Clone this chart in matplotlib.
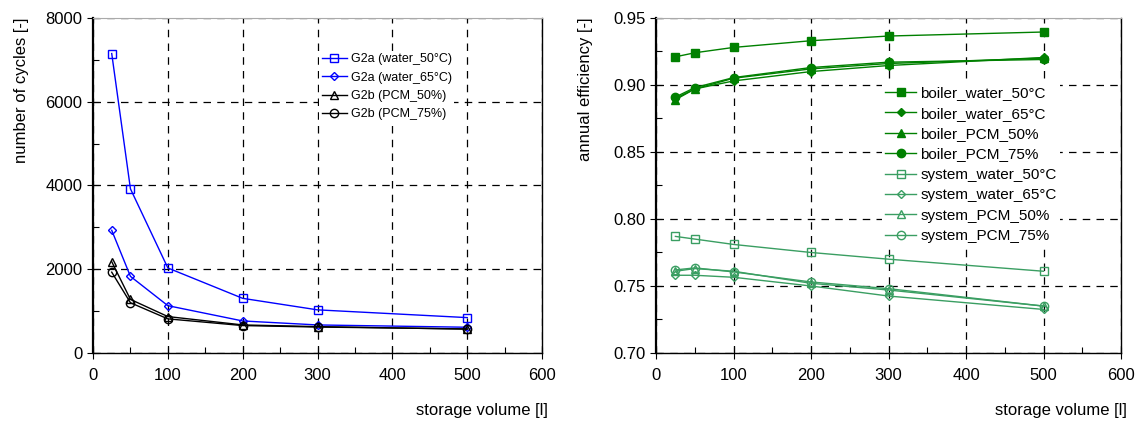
import matplotlib.pyplot as plt
from matplotlib.ticker import MultipleLocator

plt.rcParams['font.family'] = ['Liberation Sans', 'DejaVu Sans']

volume = [25, 50, 100, 200, 300, 500]

# cycles (left chart)
g2a_water50 = [7150, 3920, 2030, 1305, 1030, 845]
g2a_water65 = [2930, 1830, 1130, 765, 670, 615]
g2b_pcm50 = [2180, 1280, 870, 670, 630, 570]
g2b_pcm75 = [1930, 1200, 815, 655, 620, 575]

# annual efficiency (right chart)
boiler_water50 = [0.921, 0.924, 0.928, 0.933, 0.9365, 0.9395]
boiler_water65 = [0.890, 0.897, 0.903, 0.910, 0.9145, 0.9205]
boiler_pcm50 = [0.889, 0.897, 0.905, 0.912, 0.916, 0.920]
boiler_pcm75 = [0.891, 0.898, 0.9055, 0.913, 0.917, 0.919]
system_water50 = [0.787, 0.785, 0.781, 0.775, 0.770, 0.761]
system_water65 = [0.758, 0.758, 0.7565, 0.750, 0.7425, 0.7325]
system_pcm50 = [0.761, 0.763, 0.761, 0.752, 0.747, 0.735]
system_pcm75 = [0.762, 0.7635, 0.7605, 0.753, 0.748, 0.735]

fig = plt.figure(figsize=(11.37, 4.22), dpi=100)
ax1 = fig.add_axes([0.0818, 0.1635, 0.395, 0.794])
ax2 = fig.add_axes([0.577, 0.1635, 0.409, 0.794])


def style_axes(ax):
    ax.grid(True, which='major', color='black', linestyle=(0, (6, 5)), linewidth=0.9)
    ax.spines['left'].set_linewidth(1.6)
    ax.spines['bottom'].set_linewidth(1.0)
    ax.spines['right'].set_linewidth(1.0)
    ax.spines['top'].set_color('#aaaaaa')
    ax.spines['top'].set_linewidth(0.8)
    ax.tick_params(which='major', direction='inout', length=8, width=0.8, labelsize=12)
    ax.tick_params(which='minor', direction='in', length=4, width=0.8)
    ax.tick_params(axis='x', pad=7)
    ax.xaxis.set_major_locator(MultipleLocator(100))
    ax.xaxis.set_minor_locator(MultipleLocator(50))
    ax.set_xlim(0, 600)
    ax.set_xlabel('storage volume [l]', fontsize=12, ha='right')
    ax.xaxis.set_label_coords(1.013, -0.15, transform=ax.transAxes)
    ax.yaxis.label.set_va('top')


def legend(ax, anchor, size, spacing):
    leg = ax.legend(loc='upper left', bbox_to_anchor=anchor, frameon=True, fontsize=size,
                    handlelength=2.0, handletextpad=0.3, labelspacing=spacing,
                    borderpad=0.2, fancybox=False)
    leg.get_frame().set_facecolor('white')
    leg.get_frame().set_edgecolor('none')
    leg.get_frame().set_alpha(1)


blue = '#0000ff'
ms = 6
ax1.plot(volume, g2a_water50, color=blue, lw=1, marker='s', ms=ms, mfc='none', label='G2a (water_50°C)')
ax1.plot(volume, g2a_water65, color=blue, lw=1, marker='D', ms=4.5, mfc='none', label='G2a (water_65°C)')
ax1.plot(volume, g2b_pcm50, color='black', lw=1, marker='^', ms=ms, mfc='none', label='G2b (PCM_50%)')
ax1.plot(volume, g2b_pcm75, color='black', lw=1, marker='o', ms=ms, mfc='none', label='G2b (PCM_75%)')
style_axes(ax1)
ax1.set_ylim(0, 8000)
ax1.yaxis.set_major_locator(MultipleLocator(2000))
ax1.yaxis.set_minor_locator(MultipleLocator(1000))
ax1.set_ylabel('number of cycles [-]', fontsize=12, loc='top')
ax1.yaxis.set_label_coords(-0.175, 1.0, transform=ax1.transAxes)
legend(ax1, (0.49, 0.92), 9, 0.5)

dark = '#008000'
light = '#3a9e62'
ax2.plot(volume, boiler_water50, color=dark, lw=1, marker='s', ms=ms, label='boiler_water_50°C')
ax2.plot(volume, boiler_water65, color=dark, lw=1, marker='D', ms=4.5, label='boiler_water_65°C')
ax2.plot(volume, boiler_pcm50, color=dark, lw=1, marker='^', ms=ms, label='boiler_PCM_50%')
ax2.plot(volume, boiler_pcm75, color=dark, lw=1, marker='o', ms=ms, label='boiler_PCM_75%')
ax2.plot(volume, system_water50, color=light, lw=1, marker='s', ms=ms, mfc='none', label='system_water_50°C')
ax2.plot(volume, system_water65, color=light, lw=1, marker='D', ms=4.5, mfc='none', label='system_water_65°C')
ax2.plot(volume, system_pcm50, color=light, lw=1, marker='^', ms=ms, mfc='none', label='system_PCM_50%')
ax2.plot(volume, system_pcm75, color=light, lw=1, marker='o', ms=ms, mfc='none', label='system_PCM_75%')
style_axes(ax2)
ax2.set_ylim(0.70, 0.95)
ax2.yaxis.set_major_locator(MultipleLocator(0.05))
ax2.yaxis.set_minor_locator(MultipleLocator(0.025))
ax2.yaxis.set_major_formatter(plt.FormatStrFormatter('%.2f'))
ax2.set_ylabel('annual efficiency [-]', fontsize=12, loc='top')
ax2.yaxis.set_label_coords(-0.167, 1.0, transform=ax2.transAxes)
legend(ax2, (0.47, 0.828), 11, 0.42)

fig.savefig('out.png', dpi=100)
